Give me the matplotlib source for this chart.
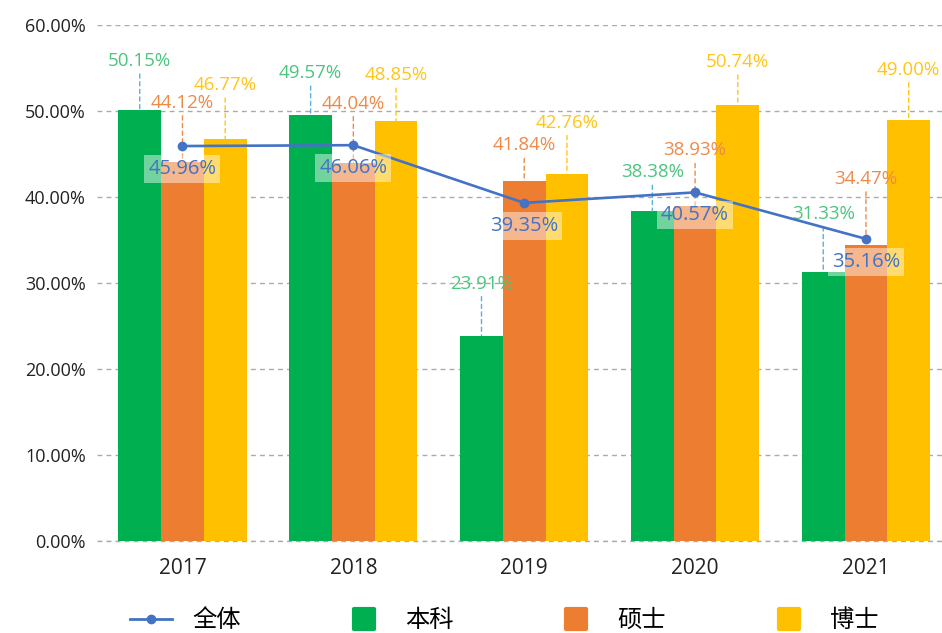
import matplotlib
matplotlib.use("Agg")
import matplotlib.pyplot as plt
from matplotlib.lines import Line2D
from matplotlib.markers import MarkerStyle
import numpy as np

plt.rcParams['font.family'] = ['Open Sans', 'Noto Sans CJK SC', 'DejaVu Sans']

years = ['2017', '2018', '2019', '2020', '2021']
benke = [50.15, 49.57, 23.91, 38.38, 31.33]
shuoshi = [44.12, 44.04, 41.84, 38.93, 34.47]
boshi = [46.77, 48.85, 42.76, 50.74, 49.00]
quanti = [45.96, 46.06, 39.35, 40.57, 35.16]

# how far (px) each bar label sits above its bar
lift_benke = [49, 42, 52, 39, 58]
lift_shuoshi = [59, 59, 36, 56, 66]
lift_boshi = [54, 46, 51, 43, 50]

c_green = '#00B050'
c_orange = '#ED7D31'
c_yellow = '#FFC000'
c_blue = '#4472C4'

fig = plt.figure(figsize=(9.42, 6.33), dpi=100)
ax = fig.add_axes([0.103, 0.145, 0.897, 0.815])

x = np.arange(len(years))
w = 0.25
pt = 0.72  # points per pixel at 100 dpi
series = [
    (benke, lift_benke, -w, c_green, '#4CC57F', '#5AAEE0'),
    (shuoshi, lift_shuoshi, 0, c_orange, '#EE8A4A', '#EE8A4A'),
    (boshi, lift_boshi, w, c_yellow, '#FFC51A', '#FFC51A'),
]
for vals, lifts, off, col, tcol, lcol in series:
    ax.bar(x + off, vals, width=w, color=col, zorder=2)
    for xi, v, lift in zip(x, vals, lifts):
        ax.annotate('', xy=(xi + off, v), xytext=(0, (lift - 13) * pt),
                    textcoords='offset points',
                    arrowprops=dict(arrowstyle='-', color=lcol, lw=1,
                                    ls=(0, (3, 2.5)), shrinkA=0, shrinkB=0),
                    zorder=3)
        ax.annotate(f'{v:.2f}%', xy=(xi + off, v), xytext=(0, lift * pt),
                    textcoords='offset points', ha='center', va='center',
                    color=tcol, fontsize=13.5, zorder=4)

ax.plot(x, quanti, color=c_blue, lw=1.9, marker='o', ms=6, zorder=5)
for xi, v in zip(x, quanti):
    ax.annotate(f'{v:.2f}%', xy=(xi, v), xytext=(0, -23 * pt),
                textcoords='offset points', ha='center', va='center',
                color=c_blue, fontsize=14.5, zorder=6,
                bbox=dict(boxstyle='square,pad=0.2', fc='white', ec='none', alpha=0.45))

ax.set_ylim(0, 60)
ax.set_xlim(-0.5, 4.445)
ax.set_yticks(np.arange(0, 61, 10))
ax.set_yticklabels([f'{t:.2f}%' for t in np.arange(0, 61, 10)], fontsize=13)
ax.set_xticks(x)
ax.set_xticklabels(years, fontsize=15)
ax.grid(axis='y', ls=(0, (3.5, 3)), color='#AAAAAA', lw=1, zorder=0)
ax.axhline(0, ls=(0, (3.5, 3)), color='#AAAAAA', lw=1, zorder=1, clip_on=False)
for s in ax.spines.values():
    s.set_visible(False)
ax.tick_params(axis='y', length=0, pad=8, colors='#222222')
ax.tick_params(axis='x', length=0, pad=12, colors='#222222')

sq = MarkerStyle('s', joinstyle='round')
handles = [
    Line2D([0], [0], color=c_blue, lw=2, marker='o', ms=6),
    Line2D([0], [0], ls='none', marker=sq, ms=15, color=c_green, mew=3),
    Line2D([0], [0], ls='none', marker=sq, ms=15, color=c_orange, mew=3),
    Line2D([0], [0], ls='none', marker=sq, ms=15, color=c_yellow, mew=3),
]
labels = ['全体', '本科', '硕士', '博士']
fig.legend(handles, labels, loc='center', bbox_to_anchor=(0.5356, 0.02),
           ncol=4, frameon=False, columnspacing=4.2, handlelength=1.7,
           handletextpad=0.85, borderpad=0, borderaxespad=0,
           prop={'family': ['Noto Sans CJK SC'], 'size': 17.5})

fig.savefig('out.png', dpi=100)
